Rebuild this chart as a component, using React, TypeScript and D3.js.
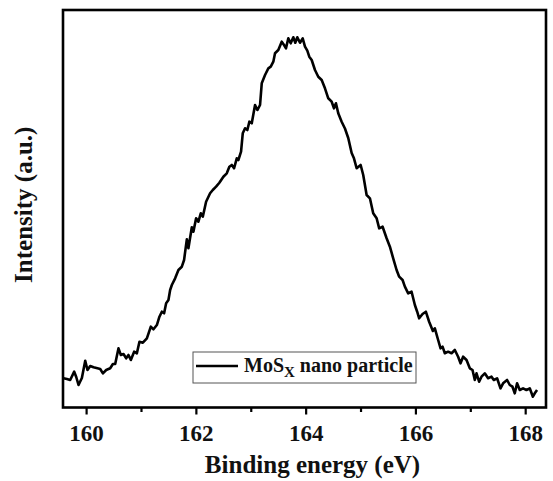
import React from "react";
import * as d3 from "d3";

const energy: number[] = [
  159.58, 159.641, 159.701, 159.774, 159.811, 159.853, 159.914, 159.975, 160.016, 160.066,
  160.126, 160.198, 160.248, 160.297, 160.357, 160.43, 160.479, 160.521, 160.581, 160.624,
  160.672, 160.721, 160.763, 160.806, 160.866, 160.916, 160.963, 161.025, 161.098, 161.17,
  161.218, 161.28, 161.327, 161.371, 161.412, 161.449, 161.491, 161.522, 161.553, 161.613,
  161.673, 161.735, 161.776, 161.826, 161.855, 161.917, 161.946, 161.995, 162.037, 162.08,
  162.117, 162.177, 162.25, 162.299, 162.359, 162.419, 162.492, 162.554, 162.601, 162.645,
  162.687, 162.736, 162.765, 162.814, 162.845, 162.887, 162.929, 162.965, 163.009, 163.069,
  163.111, 163.16, 163.191, 163.251, 163.311, 163.355, 163.402, 163.433, 163.493, 163.555,
  163.597, 163.633, 163.675, 163.719, 163.766, 163.802, 163.839, 163.888, 163.937, 163.979,
  164.021, 164.057, 164.101, 164.161, 164.221, 164.283, 164.343, 164.403, 164.465, 164.507,
  164.543, 164.585, 164.647, 164.707, 164.767, 164.829, 164.871, 164.92, 164.993, 165.04,
  165.102, 165.162, 165.222, 165.284, 165.331, 165.393, 165.466, 165.526, 165.586, 165.648,
  165.695, 165.757, 165.799, 165.859, 165.921, 165.981, 166.023, 166.059, 166.121, 166.181,
  166.241, 166.309, 166.345, 166.405, 166.449, 166.485, 166.527, 166.587, 166.649, 166.709,
  166.769, 166.813, 166.86, 166.922, 166.982, 167.031, 167.073, 167.104, 167.151, 167.195,
  167.255, 167.315, 167.377, 167.419, 167.479, 167.541, 167.588, 167.661, 167.71, 167.759,
  167.801, 167.843, 167.892, 167.952, 168.014, 168.074, 168.131, 168.165, 168.207,
];

const intensity: number[] = [
  7.35, 7.17, 6.92, 9.01, 7.67, 5.66, 7.42, 11.77, 9.43, 10.44,
  10.11, 9.86, 9.69, 8.6, 9.43, 9.86, 10.94, 10.94, 14.89, 13.21,
  13.46, 12.38, 13.21, 11.95, 14.04, 13.64, 16.55, 16.3, 17.41, 20.33,
  19.67, 20.75, 22.84, 24.1, 23.7, 26.21, 27.04, 29.56, 30.82, 32.5,
  34.59, 35.42, 37.11, 42.31, 40.05, 45.33, 44.23, 47.6, 46.74, 48.86,
  48.0, 51.77, 53.89, 54.72, 55.55, 56.55, 58.06, 58.92, 60.58, 61.01,
  60.18, 62.69, 62.26, 64.35, 68.98, 70.24, 69.81, 71.9, 71.5, 76.1,
  74.84, 76.1, 81.56, 83.65, 85.33, 85.74, 86.99, 89.11, 89.94, 92.03,
  91.19, 90.36, 92.88, 91.62, 93.13, 91.77, 93.13, 91.77, 92.88, 90.77,
  89.76, 88.25, 87.42, 84.91, 83.22, 82.39, 80.3, 77.79, 76.93, 75.27,
  76.53, 74.01, 71.9, 70.19, 67.8, 64.03, 62.69, 60.18, 61.01, 58.49,
  53.46, 52.63, 48.86, 47.6, 45.08, 45.48, 42.57, 40.45, 37.53, 34.59,
  32.91, 32.08, 30.39, 28.73, 29.13, 25.79, 24.1, 22.44, 23.52, 24.1,
  21.58, 19.25, 19.92, 16.98, 14.89, 15.3, 13.64, 14.04, 13.64, 14.47,
  12.78, 11.12, 12.78, 11.95, 9.86, 9.43, 6.92, 8.6, 6.49, 7.75,
  8.6, 7.35, 7.75, 6.92, 7.35, 4.83, 6.09, 6.92, 5.66, 5.23,
  3.57, 6.09, 4.4, 4.83, 4.4, 4.83, 2.72, 3.57, 4.4,
];

const majorTicks: number[] = [160, 162, 164, 166, 168];
const minorTicks: number[] = [161, 163, 165, 167];
const xTitle = "Binding energy (eV)";
const yTitle = "Intensity (a.u.)";
const legendMain = "MoS";
const legendSub = "X";
const legendRest = " nano particle";

export default function App() {
  const W = 553;
  const H = 481;
  const left = 63;
  const right = 546;
  const top = 10;
  const bottom = 407.5;

  const x = d3.scaleLinear().domain([159.57, 168.37]).range([left, right]);
  const y = d3.scaleLinear().domain([0, 100]).range([bottom, top]);

  const pts = energy.map((e, i) => [e, intensity[i]] as [number, number]);
  const line = d3
    .line<[number, number]>()
    .x((d) => x(d[0]))
    .y((d) => y(d[1]));

  const font = "'Liberation Serif', 'Times New Roman', serif";

  return (
    <svg
      width={W}
      height={H}
      style={{ position: "absolute", left: 0, top: 0, display: "block", background: "#fff" }}
    >
      <path d={line(pts) || ""} fill="none" stroke="#000" strokeWidth={2.6} strokeLinejoin="round" />
      <rect
        x={left}
        y={top}
        width={right - left}
        height={bottom - top}
        fill="none"
        stroke="#000"
        strokeWidth={2.6}
      />
      {majorTicks.map((t) => (
        <g key={"M" + t}>
          <line x1={x(t)} x2={x(t)} y1={bottom} y2={bottom + 7} stroke="#000" strokeWidth={2.2} />
          <text
            x={x(t)}
            y={bottom + 33}
            textAnchor="middle"
            fontFamily={font}
            fontWeight="bold"
            fontSize={23}
            fill="#111"
          >
            {t}
          </text>
        </g>
      ))}
      {minorTicks.map((t) => (
        <line key={"m" + t} x1={x(t)} x2={x(t)} y1={bottom} y2={bottom + 4.5} stroke="#000" strokeWidth={2.2} />
      ))}
      <text
        x={(left + right) / 2 + 8}
        y={473}
        textAnchor="middle"
        fontFamily={font}
        fontWeight="bold"
        fontSize={25}
        fill="#111"
      >
        {xTitle}
      </text>
      <text
        transform={`translate(32, ${(top + bottom) / 2 - 4}) rotate(-90)`}
        textAnchor="middle"
        fontFamily={font}
        fontWeight="bold"
        fontSize={25}
        fill="#111"
      >
        {yTitle}
      </text>
      <g>
        <rect x={193} y={352} width={223} height={31} fill="#fff" stroke="#555" strokeWidth={1} />
        <line x1={196} x2={238} y1={366} y2={366} stroke="#000" strokeWidth={2.6} />
        <text x={244} y={372} fontFamily={font} fontWeight="bold" fontSize={20} fill="#111">
          {legendMain}
          <tspan fontSize={15} dy={5}>{legendSub}</tspan>
          <tspan dy={-5}>{legendRest}</tspan>
        </text>
      </g>
    </svg>
  );
}
